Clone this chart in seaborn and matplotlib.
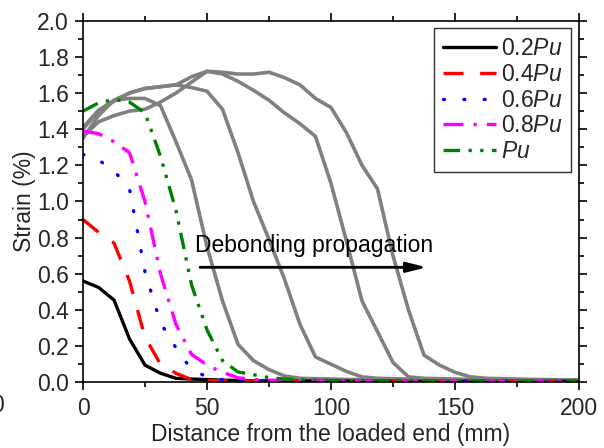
import matplotlib
matplotlib.use("Agg")
import matplotlib.pyplot as plt
import seaborn as sns
from matplotlib.lines import Line2D
from matplotlib.ticker import MultipleLocator, FormatStrFormatter

# Distance from the loaded end (mm) of each strain reading
distance = [0, 6.25, 12.5, 18.75, 25, 31.25, 37.5, 43.75, 50, 56.25, 62.5,
            68.75, 75, 81.25, 87.5, 93.75, 100, 106.25, 112.5, 118.75, 125,
            131.25, 137.5, 143.75, 150, 156.25, 162.5, 168.75, 175, 181.25,
            187.5, 193.75, 200]

# Strain profiles (%) at increasing load levels
strain_02pu = [0.56, 0.525, 0.455, 0.24, 0.095, 0.05, 0.022, 0.018, 0.015, 0.012,
               0.010, 0.009, 0.008, 0.008, 0.007, 0.007, 0.007, 0.006, 0.006, 0.006,
               0.006, 0.005, 0.005, 0.005, 0.005, 0.005, 0.005, 0.005, 0.005, 0.005,
               0.005, 0.005, 0.005]
strain_04pu = [0.90, 0.83, 0.77, 0.56, 0.25, 0.10, 0.05, 0.015, 0.010, 0.009,
               0.008, 0.008, 0.007, 0.007, 0.007, 0.006, 0.006, 0.006, 0.006, 0.006,
               0.005, 0.005, 0.005, 0.005, 0.005, 0.005, 0.005, 0.005, 0.005, 0.005,
               0.005, 0.005, 0.005]
strain_06pu = [1.26, 1.23, 1.17, 1.07, 0.61, 0.33, 0.19, 0.07, 0.03, 0.015,
               0.010, 0.009, 0.008, 0.008, 0.007, 0.007, 0.007, 0.006, 0.006, 0.006,
               0.006, 0.005, 0.005, 0.005, 0.005, 0.005, 0.005, 0.005, 0.005, 0.005,
               0.005, 0.005, 0.005]
strain_08pu = [1.39, 1.375, 1.33, 1.27, 1.00, 0.60, 0.32, 0.155, 0.095, 0.055,
               0.025, 0.015, 0.012, 0.010, 0.009, 0.008, 0.008, 0.007, 0.007, 0.007,
               0.006, 0.006, 0.006, 0.006, 0.006, 0.006, 0.005, 0.005, 0.005, 0.005,
               0.005, 0.005, 0.005]
strain_pu = [1.50, 1.545, 1.565, 1.55, 1.49, 1.25, 0.95, 0.54, 0.29, 0.12,
             0.057, 0.042, 0.026, 0.018, 0.014, 0.012, 0.010, 0.009, 0.008, 0.008,
             0.007, 0.007, 0.007, 0.006, 0.006, 0.006, 0.006, 0.006, 0.005, 0.005,
             0.005, 0.005, 0.005]

# Post-peak profiles as debonding propagates
post_peak_1 = [1.35, 1.475, 1.56, 1.57, 1.57, 1.53, 1.33, 1.12, 0.75, 0.45,
               0.21, 0.12, 0.07, 0.035, 0.022, 0.02, 0.018, 0.016, 0.015, 0.014,
               0.013, 0.013, 0.012, 0.012, 0.012, 0.011, 0.011, 0.011, 0.010, 0.010,
               0.010, 0.010, 0.010]
post_peak_2 = [1.40, 1.50, 1.555, 1.60, 1.625, 1.635, 1.645, 1.63, 1.61, 1.51,
               1.27, 1.00, 0.79, 0.57, 0.32, 0.14, 0.10, 0.06, 0.03, 0.022,
               0.02, 0.018, 0.016, 0.015, 0.014, 0.013, 0.013, 0.012, 0.012, 0.011,
               0.011, 0.010, 0.010]
post_peak_3 = [1.36, 1.44, 1.475, 1.50, 1.51, 1.55, 1.60, 1.66, 1.72, 1.705,
               1.665, 1.615, 1.56, 1.49, 1.43, 1.36, 1.10, 0.78, 0.45, 0.28,
               0.11, 0.03, 0.022, 0.02, 0.018, 0.016, 0.015, 0.014, 0.013, 0.012,
               0.012, 0.011, 0.011]
post_peak_4 = [1.41, 1.505, 1.56, 1.60, 1.625, 1.635, 1.645, 1.69, 1.72, 1.715,
               1.705, 1.705, 1.715, 1.685, 1.645, 1.57, 1.52, 1.38, 1.20, 1.07,
               0.70, 0.40, 0.15, 0.095, 0.055, 0.03, 0.022, 0.02, 0.018, 0.016,
               0.015, 0.014, 0.013]

load_labels = ["0.2$\\mathit{Pu}$", "0.4$\\mathit{Pu}$", "0.6$\\mathit{Pu}$",
               "0.8$\\mathit{Pu}$", "$\\mathit{Pu}$"]

sns.set_theme(style="white")
plt.rcParams["font.family"] = ["Liberation Sans", "DejaVu Sans"]
plt.rcParams["mathtext.fontset"] = "custom"
plt.rcParams["mathtext.rm"] = "Liberation Sans"
plt.rcParams["mathtext.it"] = "Liberation Sans:italic"

FS = 16.5
LW = 2.4

fig = plt.figure(figsize=(6.04, 4.48), dpi=100)
ax = fig.add_axes([83 / 604, 1 - 382.3 / 448, (579 - 83) / 604, (382.3 - 20.7) / 448])

# post-peak curves
for series in (post_peak_1, post_peak_2, post_peak_3, post_peak_4):
    sns.lineplot(x=distance, y=series, ax=ax, color="#808080", lw=2.6,
                 legend=False, solid_joinstyle="round")

styles = [
    dict(color="black", linestyle="-"),
    dict(color="#FF0000", linestyle=(0, (6, 5))),
    dict(color="#0000FF", linestyle=(0, (0.3, 5.8)), dash_capstyle="round"),
    dict(color="#FF00FF", linestyle=(0, (6, 3, 1, 3))),
    dict(color="#008000", linestyle=(0, (5, 2.5, 1, 2.5, 1, 2.5))),
]
profiles = [strain_02pu, strain_04pu, strain_06pu, strain_08pu, strain_pu]
for series, st in zip(profiles, styles):
    sns.lineplot(x=distance, y=series, ax=ax, lw=LW, legend=False, **st)

ax.set_xlim(0, 200)
ax.set_ylim(0, 2.0)
ax.xaxis.set_major_locator(MultipleLocator(50))
ax.xaxis.set_minor_locator(MultipleLocator(25))
ax.yaxis.set_major_locator(MultipleLocator(0.2))
ax.yaxis.set_minor_locator(MultipleLocator(0.1))
ax.yaxis.set_major_formatter(FormatStrFormatter("%.1f"))

for sp in ax.spines.values():
    sp.set_visible(True)
    sp.set_color("black")
    sp.set_linewidth(1.2)

ax.tick_params(which="both", direction="out", top=True, right=True,
               bottom=True, left=True, labeltop=False, labelright=False,
               color="black", width=1.2)
ax.tick_params(which="major", length=6, labelsize=FS, pad=4)
ax.tick_params(which="minor", length=3.5)
ax.tick_params(axis="x", which="major", pad=4.5)

ax.set_xlabel("Distance from the loaded end (mm)", fontsize=FS, labelpad=2)
ax.set_ylabel("Strain (%)", fontsize=FS, labelpad=1)

handles = [Line2D([0], [0], lw=LW, **st) for st in styles]
leg = ax.legend(handles, load_labels, loc="upper right",
                bbox_to_anchor=(571 / 604, 1 - 28 / 448),
                bbox_transform=fig.transFigure, borderaxespad=0,
                frameon=True, fancybox=False, edgecolor="black",
                handlelength=2.3, handletextpad=0.2, labelspacing=0.12,
                borderpad=0.4, fontsize=FS)
leg.get_frame().set_linewidth(1.0)

ax.annotate("", xy=(138.6, 0.636), xytext=(47.2, 0.636),
            arrowprops=dict(arrowstyle="-|>,head_length=1.0,head_width=0.25",
                            color="black", lw=2.0, mutation_scale=12,
                            shrinkA=0, shrinkB=0))
ax.text(45.2, 0.722, "Debonding propagation", fontsize=FS, va="baseline",
        ha="left", color="black")

fig.text(4 / 604, 1 - 405 / 448, "0", ha="right", va="center", fontsize=FS)

fig.savefig("out.png", dpi=100)
